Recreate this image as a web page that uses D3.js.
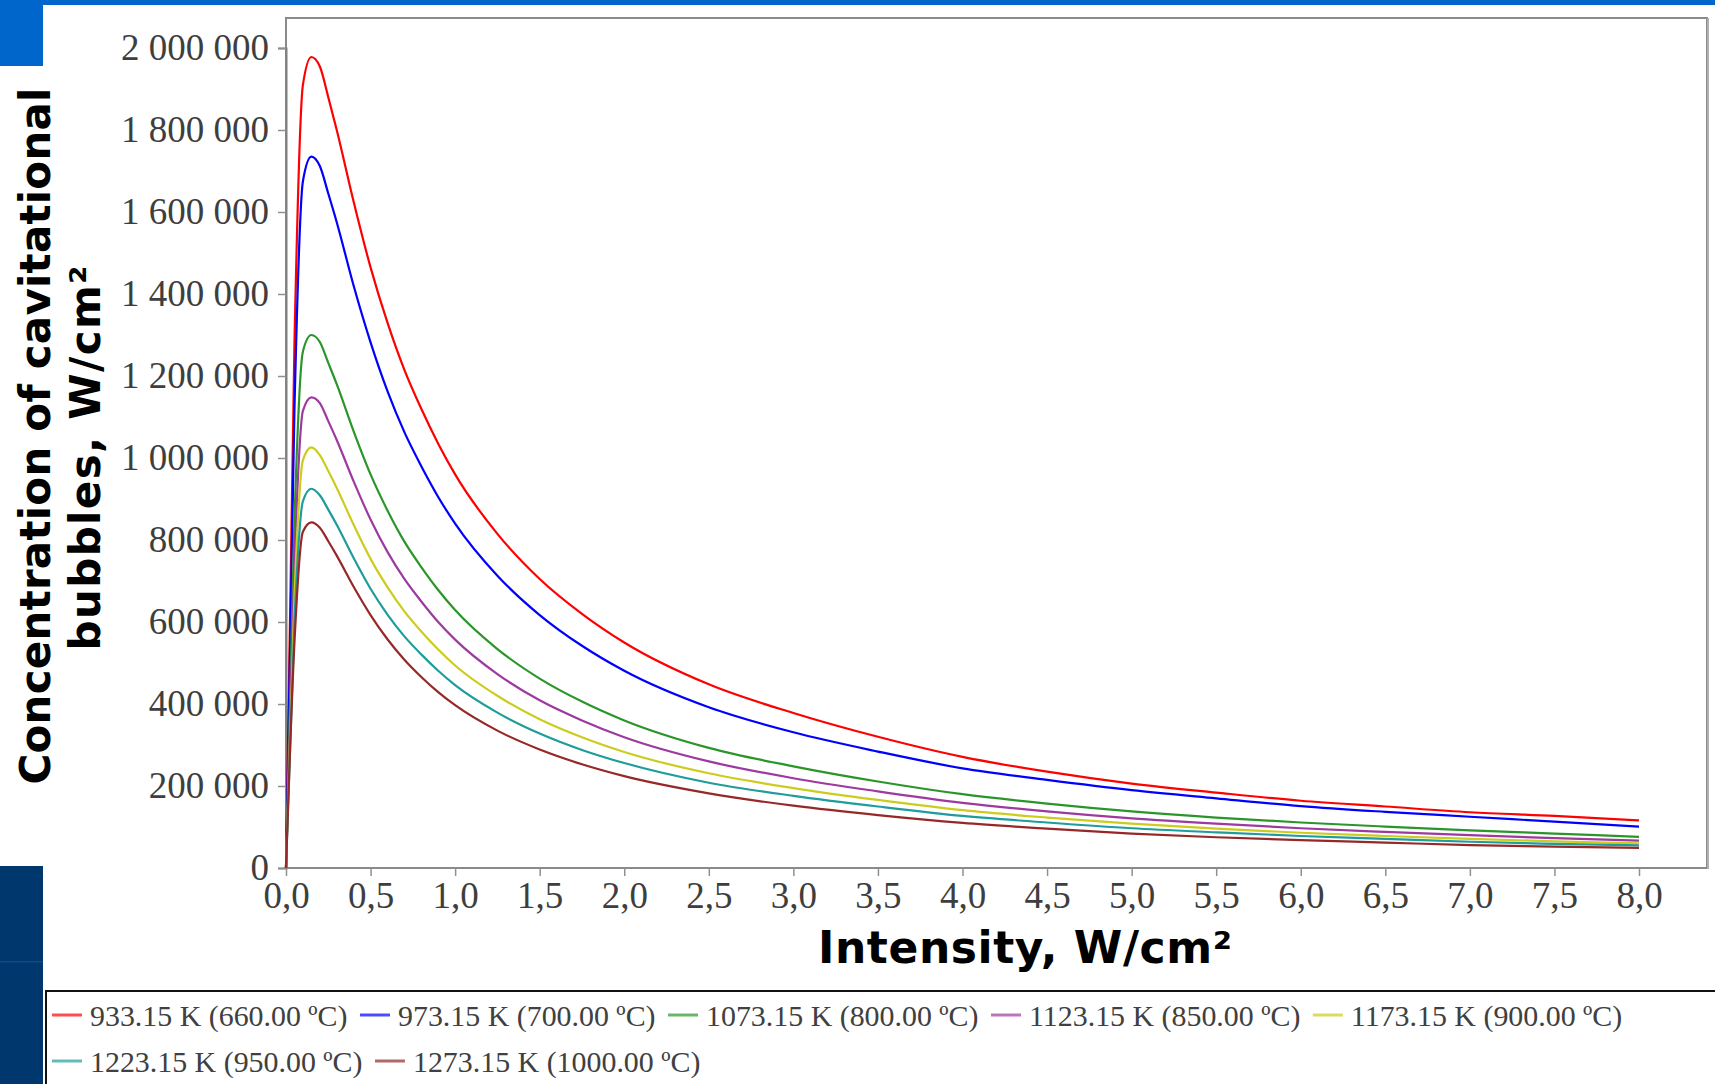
<!DOCTYPE html>
<html>
<head>
<meta charset="utf-8">
<script src="https://cdn.jsdelivr.net/npm/d3@7/dist/d3.min.js"></script>
<style>
  html, body { margin: 0; padding: 0; background: #ffffff; }
  svg { display: block; }
</style>
</head>
<body>
<svg id="chart" width="1715" height="1084"></svg>
<script>
// ---------------- DATA ----------------
const intensity = [0, 0.05, 0.1, 0.15, 0.2, 0.25, 0.3, 0.4, 0.5, 0.6, 0.7, 0.8, 0.9, 1.0, 1.25, 1.5, 1.75, 2.0, 2.5, 3.0, 3.5, 4.0, 4.5, 5.0, 5.5, 6.0, 6.5, 7.0, 7.5, 8.0];

const seriesNames = [
  "933.15 K (660.00 ºC)",
  "973.15 K (700.00 ºC)",
  "1073.15 K (800.00 ºC)",
  "1123.15 K (850.00 ºC)",
  "1173.15 K (900.00 ºC)",
  "1223.15 K (950.00 ºC)",
  "1273.15 K (1000.00 ºC)"
];

const k933 = [0, 1280000, 1910000, 1978000, 1955000, 1880000, 1800000, 1625000, 1465000, 1330000, 1215000, 1120000, 1035000, 960000, 815000, 705000, 620000, 550000, 448000, 378000, 320000, 271000, 235000, 206000, 184000, 164000, 150000, 136000, 127000, 116000];
const k973 = [0, 1120000, 1675000, 1735000, 1712000, 1645000, 1575000, 1420000, 1282000, 1163000, 1063000, 980000, 905000, 840000, 713000, 617000, 542000, 481000, 392000, 331000, 284000, 243000, 215000, 190000, 170000, 151000, 137000, 125000, 113000, 101000];
const k1073 = [0, 850000, 1260000, 1300000, 1283000, 1232000, 1180000, 1065000, 960000, 872000, 796000, 734000, 678000, 629000, 534000, 462000, 406000, 360000, 293000, 248000, 211000, 180000, 157000, 138000, 123000, 111000, 101000, 92000, 84000, 76000];
const k1123 = [0, 745000, 1115000, 1148000, 1134000, 1090000, 1044000, 943000, 850000, 771000, 705000, 650000, 600000, 557000, 473000, 409000, 360000, 319000, 260000, 219000, 187000, 159000, 138000, 121000, 108000, 97000, 88000, 80000, 73000, 67000];
const k1173 = [0, 665000, 995000, 1026000, 1007000, 968000, 927000, 837000, 754000, 685000, 626000, 577000, 533000, 494000, 420000, 363000, 319000, 283000, 231000, 195000, 166000, 141000, 123000, 108000, 96000, 86000, 78000, 71000, 65000, 60000];
const k1223 = [0, 600000, 895000, 925000, 909000, 874000, 837000, 756000, 681000, 618000, 565000, 521000, 481000, 446000, 379000, 328000, 288000, 256000, 208000, 176000, 150000, 127000, 111000, 97000, 87000, 78000, 71000, 64000, 59000, 55000];
const k1273 = [0, 550000, 820000, 843000, 830000, 797000, 762000, 686000, 617000, 558000, 508000, 466000, 429000, 397000, 335000, 289000, 253000, 224000, 182000, 152000, 129000, 110000, 96000, 84000, 75000, 68000, 62000, 56000, 52000, 49000];

const xTicks = [0, 0.5, 1, 1.5, 2, 2.5, 3, 3.5, 4, 4.5, 5, 5.5, 6, 6.5, 7, 7.5, 8];
const yTicks = [0, 200000, 400000, 600000, 800000, 1000000, 1200000, 1400000, 1600000, 1800000, 2000000];

const xTitle = "Intensity, W/cm²";
const yTitleLines = ["Concentration of cavitational", "bubbles, W/cm²"];

// ---------------- STYLE ----------------
const seriesColors = ["#ff0000", "#0000ff", "#2a962a", "#9c3aa0", "#cccc1e", "#1f9c9c", "#962828"];
const allSeries = [k933, k973, k1073, k1123, k1173, k1223, k1273];

const W = 1715, H = 1084;
const plot = { left: 286, right: 1707, top: 18, bottom: 868 };

const svg = d3.select("#chart");

// decorative slide elements
svg.append("rect").attr("x", 0).attr("y", 0).attr("width", W).attr("height", 5).attr("fill", "#0066cc");
svg.append("rect").attr("x", 0).attr("y", 0).attr("width", 43).attr("height", 66).attr("fill", "#0066cc");
svg.append("rect").attr("x", 0).attr("y", 866).attr("width", 43).attr("height", H - 866).attr("fill", "#00376c");
svg.append("rect").attr("x", 0).attr("y", 961).attr("width", 43).attr("height", 1.5).attr("fill", "#0b4b88");

const locale = d3.formatLocale({ decimal: ",", thousands: " ", grouping: [3], currency: ["", ""] });
const fmtY = locale.format(",.0f");
const fmtX = locale.format(".1f");

const x = d3.scaleLinear().domain([0, 8]).range([286, 1639]);
const y = d3.scaleLinear().domain([0, 2000000]).range([868, 48]);

// frame
svg.append("rect")
  .attr("x", plot.left).attr("y", plot.top)
  .attr("width", plot.right - plot.left).attr("height", plot.bottom - plot.top)
  .attr("fill", "none").attr("stroke", "#8a8a8a").attr("stroke-width", 2);
svg.append("line")
  .attr("x1", plot.right + 1).attr("x2", plot.right + 1)
  .attr("y1", plot.top).attr("y2", plot.bottom + 1)
  .attr("stroke", "#b0b0b0").attr("stroke-width", 2);

// axes
const yAxis = d3.axisLeft(y).tickValues(yTicks).tickFormat(fmtY).tickSize(8).tickPadding(9);
const gy = svg.append("g").attr("transform", `translate(${plot.left},0)`).call(yAxis);
gy.select(".domain").attr("stroke", "#808080").attr("stroke-width", 2);
gy.selectAll(".tick line").attr("stroke", "#909090").attr("stroke-width", 1.5);
gy.selectAll(".tick text")
  .attr("font-family", "'Liberation Serif', 'Times New Roman', serif")
  .attr("font-size", 37).attr("fill", "#3e3e3e");

const xAxis = d3.axisBottom(x).tickValues(xTicks).tickFormat(fmtX).tickSize(8).tickPadding(6);
const gx = svg.append("g").attr("transform", `translate(0,${plot.bottom})`).call(xAxis);
gx.select(".domain").remove();
gx.selectAll(".tick line").attr("stroke", "#909090").attr("stroke-width", 1.5);
gx.selectAll(".tick text")
  .attr("font-family", "'Liberation Serif', 'Times New Roman', serif")
  .attr("font-size", 37).attr("fill", "#3e3e3e");

// lines
const line = d3.line()
  .x((d, i) => x(intensity[i]))
  .y(d => y(d))
  .curve(d3.curveMonotoneX);

svg.append("g").selectAll("path")
  .data(allSeries)
  .join("path")
  .attr("d", d => line(d))
  .attr("fill", "none")
  .attr("stroke", (d, i) => seriesColors[i])
  .attr("stroke-width", 2.2)
  .attr("stroke-linejoin", "round");

// titles
svg.append("text")
  .attr("x", 1025).attr("y", 963)
  .attr("text-anchor", "middle")
  .attr("font-family", "'DejaVu Sans', Verdana, sans-serif")
  .attr("font-weight", "bold").attr("font-size", 44).attr("fill", "#000")
  .attr("textLength", 414).attr("lengthAdjust", "spacing")
  .text(xTitle);

const yTitleCenters = [436, 458];
const yTitleBase = [50, 100];
const yTitleLen = [697, 385];
yTitleLines.forEach((t, i) => {
  svg.append("text")
    .attr("transform", `translate(${yTitleBase[i]},${yTitleCenters[i]}) rotate(-90)`)
    .attr("text-anchor", "middle")
    .attr("font-family", "'DejaVu Sans', Verdana, sans-serif")
    .attr("font-weight", "bold").attr("font-size", 42).attr("fill", "#000")
    .attr("textLength", yTitleLen[i]).attr("lengthAdjust", "spacing")
    .text(t);
});

// legend
svg.append("rect")
  .attr("x", 46).attr("y", 991).attr("width", W).attr("height", 200)
  .attr("fill", "#fff").attr("stroke", "#111").attr("stroke-width", 2);

const rows = [[0, 1, 2, 3, 4], [5, 6]];
const rowY = [1015, 1061];
rows.forEach((row, r) => {
  let cx = 52;
  row.forEach(si => {
    const g = svg.append("g");
    g.append("line")
      .attr("x1", cx).attr("x2", cx + 30)
      .attr("y1", rowY[r]).attr("y2", rowY[r])
      .attr("stroke", seriesColors[si]).attr("stroke-width", 3).attr("stroke-opacity", 0.7);
    const t = g.append("text")
      .attr("x", cx + 38).attr("y", rowY[r])
      .attr("dominant-baseline", "central")
      .attr("font-family", "'Liberation Serif', 'Times New Roman', serif")
      .attr("font-size", 29.9).attr("fill", "#404040")
      .text(seriesNames[si]);
    const w = t.node().getComputedTextLength();
    cx = cx + 38 + w + 12.5;
  });
});
</script>
</body>
</html>
